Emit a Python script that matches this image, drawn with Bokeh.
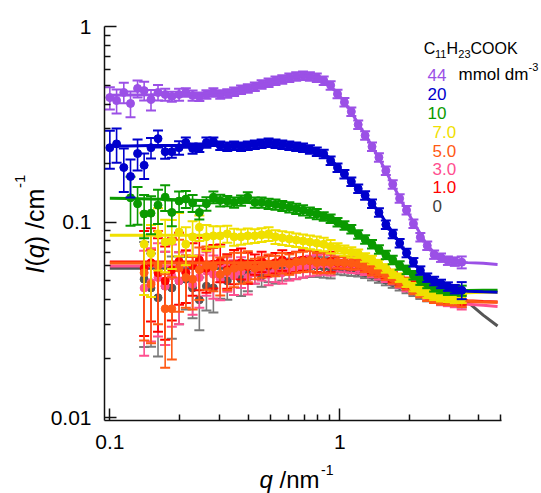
import numpy as np
from bokeh.plotting import figure
from bokeh.models import Range1d, FixedTicker, CustomJSTickFormatter, Label, ColumnDataSource
from bokeh.embed import file_html
from bokeh.resources import INLINE

N = None
# ---------------- data ----------------
q = [0.100, 0.107, 0.115, 0.123, 0.132, 0.141, 0.151, 0.162, 0.174, 0.186,
     0.200, 0.214, 0.229, 0.245, 0.263, 0.282, 0.302, 0.324, 0.347, 0.372,
     0.398, 0.427, 0.457, 0.490, 0.525, 0.562, 0.603, 0.646, 0.692, 0.741,
     0.794, 0.851, 0.912, 0.977, 1.047, 1.122, 1.202, 1.288, 1.380, 1.479,
     1.585, 1.698, 1.820, 1.950, 2.089, 2.239, 2.399, 2.570, 2.754, 2.951,
     3.162, 3.388]

I_44 = [0.433, 0.418, 0.460, 0.404, 0.482, 0.470, 0.423, 0.460, 0.449, 0.438,
        0.449, 0.460, 0.444, 0.438, 0.449, 0.460, 0.449, 0.455, 0.465, 0.476,
        0.482, 0.493, 0.505, 0.517, 0.529, 0.536, 0.548, 0.555, 0.561, 0.555,
        0.548, 0.529, 0.500, 0.452, 0.410, 0.367, 0.315, 0.277, 0.243, 0.214,
        0.183, 0.156, 0.132, 0.115, 0.098, 0.0836, 0.0758, 0.0682, 0.0658, 0.0635,
        0.0628, 0.0623]
I_20 = [0.240, 0.251, 0.190, 0.171, 0.224, 0.195, 0.240, 0.267, 0.229, 0.229,
        0.240, 0.255, 0.238, 0.240, 0.255, 0.258, 0.246, 0.243, 0.246, 0.243,
        0.246, 0.249, 0.252, 0.255, 0.252, 0.249, 0.246, 0.243, 0.240, 0.235,
        0.229, 0.223, 0.206, 0.190, 0.176, 0.161, 0.148, 0.137, 0.124, 0.112,
        0.097, 0.087, 0.078, 0.0695, 0.0623, 0.0565, 0.052, 0.050, 0.0483, 0.0468,
        0.0454, 0.0448]
I_10 = [N, N, N, 0.133, 0.124, 0.110, 0.111, 0.122, 0.134, 0.112,
        0.128, 0.131, 0.125, 0.112, 0.124, 0.134, 0.129, 0.128, 0.126, 0.129,
        0.134, 0.126, 0.126, 0.124, 0.123, 0.121, 0.119, 0.117, 0.115, 0.112,
        0.110, 0.107, 0.104, 0.100, 0.096, 0.092, 0.0865, 0.0815, 0.0770, 0.0725,
        0.068, 0.064, 0.060, 0.057, 0.0535, 0.0502, 0.0483, 0.0464, 0.0455, 0.0446,
        0.0446, 0.0446]
I_7 = [N, N, N, N, N, 0.077, 0.069, 0.087, 0.079, 0.080,
       0.089, 0.077, 0.084, 0.094, 0.084, 0.085, 0.085, 0.087, 0.084, 0.084,
       0.085, 0.085, 0.086, 0.087, 0.084, 0.083, 0.082, 0.081, 0.080, 0.079,
       0.078, 0.077, 0.075, 0.0735, 0.0715, 0.070, 0.069, 0.066, 0.064, 0.061,
       0.058, 0.0545, 0.052, 0.049, 0.0465, 0.0445, 0.043, 0.042, 0.0413, 0.041,
       0.0405, 0.0405]
I_5 = [N, N, N, N, N, 0.055, 0.048, 0.060, 0.036, 0.036,
       0.058, 0.052, 0.051, 0.057, 0.060, 0.059, 0.054, 0.056, 0.058, 0.059,
       0.060, 0.058, 0.059, 0.061, 0.060, 0.062, 0.061, 0.0625, 0.063, 0.0635,
       0.062, 0.0623, 0.062, 0.0623, 0.062, 0.0615, 0.061, 0.059, 0.0567, 0.0555,
       0.0538, 0.0515, 0.0497, 0.048, 0.0455, 0.0438, 0.042, 0.041, 0.0403, 0.040,
       0.0398, 0.040]
I_3 = [N, N, N, N, N, 0.046, 0.049, 0.052, 0.047, 0.053,
       0.050, 0.055, 0.048, 0.052, 0.056, 0.054, 0.051, 0.055, 0.053, 0.056,
       0.052, 0.055, 0.057, 0.054, 0.056, 0.055, 0.057, 0.058, 0.059, 0.060,
       0.0605, 0.061, 0.0605, 0.060, 0.0595, 0.059, 0.058, 0.057, 0.0555, 0.054,
       0.0525, 0.051, 0.049, 0.047, 0.0455, 0.044, 0.0425, 0.041, 0.040, 0.0395,
       0.039, 0.0388]
I_1 = [N, N, N, N, N, 0.058, 0.062, 0.055, 0.050, 0.057,
       0.063, 0.055, 0.060, 0.064, 0.058, 0.061, 0.063, 0.057, 0.060, 0.062,
       0.059, 0.061, 0.063, 0.060, 0.062, 0.064, 0.062, 0.063, 0.064, 0.0635,
       0.063, 0.0625, 0.063, 0.062, 0.062, 0.0615, 0.061, 0.0595, 0.058, 0.056,
       0.0545, 0.0525, 0.051, 0.049, 0.047, 0.045, 0.0435, 0.0425, 0.0415, 0.041,
       0.041, 0.041]
I_0 = [N, N, N, N, N, 0.051, 0.046, 0.041, 0.047, 0.046,
       0.050, 0.051, 0.046, 0.040, 0.047, 0.046, 0.052, 0.050, 0.053, 0.051,
       0.054, 0.055, 0.053, 0.056, 0.055, 0.057, 0.058, 0.058, 0.059, 0.0595,
       0.0595, 0.059, 0.0585, 0.058, 0.0575, 0.057, 0.056, 0.055, 0.0535, 0.052,
       0.0505, 0.049, 0.0475, 0.046, 0.0445, 0.043, 0.0418, 0.041, 0.040, 0.0398,
       0.0395, 0.0397]

# relative errors
err_44 = [0.13, 0.14, 0.12, 0.15, 0.10, 0.11, 0.12, 0.09, 0.07, 0.06,
          0.07, 0.05, 0.06, 0.05, 0.05, 0.05, 0.05, 0.05, 0.05, 0.05,
          0.05, 0.05, 0.05, 0.05, 0.05, 0.05, 0.05, 0.05, 0.05, 0.05,
          0.05, 0.05, 0.05, 0.05, 0.05, 0.05, 0.05, 0.05, 0.05, 0.05,
          0.05, 0.05, 0.05, 0.05, 0.05, 0.05, 0.05, 0.05, 0.05, 0.05,
          0.05, 0.07]
err_20 = [0.22, 0.20, 0.25, 0.22, 0.18, 0.15, 0.12, 0.10, 0.08, 0.07,
          0.08, 0.06, 0.06, 0.05, 0.06, 0.05, 0.05, 0.05, 0.05, 0.05,
          0.05, 0.05, 0.05, 0.05, 0.05, 0.05, 0.05, 0.05, 0.05, 0.05,
          0.05, 0.05, 0.05, 0.05, 0.05, 0.05, 0.05, 0.05, 0.05, 0.05,
          0.05, 0.05, 0.05, 0.05, 0.05, 0.05, 0.05, 0.05, 0.05, 0.05,
          0.05, 0.10]
err_10 = [N, N, N, 0.28, 0.22, 0.25, 0.22, 0.20, 0.15, 0.15,
          0.12, 0.10, 0.10, 0.08, 0.08, 0.07, 0.07, 0.06, 0.06, 0.06,
          0.06, 0.06, 0.06, 0.06, 0.06, 0.06, 0.06, 0.06, 0.06, 0.06,
          0.06, 0.05, 0.05, 0.05, 0.05, 0.05, 0.05, 0.05, 0.05, 0.05,
          0.05, 0.05, 0.05, 0.05, 0.05, 0.05, 0.05, 0.05, 0.05, 0.05,
          0.05, 0.06]
err_7 = [N, N, N, N, N, 0.45, 0.40, 0.35, 0.30, 0.28,
         0.25, 0.22, 0.20, 0.15, 0.15, 0.12, 0.12, 0.10, 0.10, 0.09,
         0.09, 0.08, 0.08, 0.08, 0.08, 0.08, 0.08, 0.08, 0.08, 0.08,
         0.08, 0.08, 0.08, 0.06, 0.06, 0.06, 0.05, 0.05, 0.05, 0.05,
         0.05, 0.05, 0.05, 0.05, 0.05, 0.05, 0.05, 0.05, 0.05, 0.05,
         0.05, 0.05]
err_low = [N, N, N, N, N, 0.55, 0.50, 0.50, 0.50, 0.45,
           0.40, 0.30, 0.30, 0.30, 0.25, 0.25, 0.22, 0.20, 0.20, 0.18,
           0.18, 0.12, 0.12, 0.12, 0.12, 0.12, 0.12, 0.12, 0.12, 0.12,
           0.12, 0.12, 0.12, 0.07, 0.07, 0.07, 0.06, 0.06, 0.06, 0.06,
           0.06, 0.06, 0.06, 0.06, 0.06, 0.06, 0.06, 0.06, 0.06, 0.06,
           0.06, 0.08]

# fitted curves
q_fit = [0.1, 0.12, 0.15, 0.2, 0.25, 0.3, 0.35, 0.4, 0.5, 0.6, 0.7, 0.8, 0.9, 1.0,
         1.1, 1.2, 1.35, 1.5, 1.7, 1.9, 2.1, 2.35, 2.6, 2.9, 3.2, 3.6, 4.2, 4.85]
fit_44 = [0.445, 0.447, 0.448, 0.450, 0.455, 0.462, 0.472, 0.485, 0.515, 0.543, 0.560, 0.552,
          0.505, 0.440, 0.378, 0.320, 0.255, 0.206, 0.155, 0.121, 0.099, 0.079, 0.068, 0.0638,
          0.0625, 0.062, 0.0615, 0.0607]
fit_20 = [0.245, 0.245, 0.246, 0.246, 0.246, 0.246, 0.247, 0.249, 0.251, 0.245, 0.238, 0.229,
          0.214, 0.186, 0.164, 0.149, 0.129, 0.110, 0.088, 0.072, 0.061, 0.0535, 0.050, 0.0468,
          0.0452, 0.0443, 0.044, 0.0438]
fit_10 = [0.1325, 0.132, 0.131, 0.130, 0.129, 0.128, 0.127, 0.126, 0.124, 0.119, 0.115, 0.110,
          0.105, 0.099, 0.093, 0.087, 0.0785, 0.0715, 0.064, 0.058, 0.053, 0.049, 0.0462, 0.0448,
          0.0446, 0.0447, 0.0448, 0.0448]
fit_7 = [0.0855, 0.0855, 0.0855, 0.0855, 0.0855, 0.0855, 0.085, 0.085, 0.0835, 0.081, 0.079, 0.0765,
         0.074, 0.0715, 0.0695, 0.0675, 0.0635, 0.059, 0.054, 0.0495, 0.0465, 0.0438, 0.0425, 0.0418,
         0.0425, 0.0435, 0.0438, 0.0438]
fit_5 = [0.0618, 0.0618, 0.0618, 0.0618, 0.0618, 0.0619, 0.062, 0.062, 0.0622, 0.0625, 0.0625, 0.0623,
         0.062, 0.0615, 0.0607, 0.0595, 0.0572, 0.0548, 0.0515, 0.0485, 0.046, 0.0435, 0.0418, 0.0405,
         0.0398, 0.0393, 0.039, 0.0389]
fit_3 = [0.0595, 0.0595, 0.0595, 0.0596, 0.0596, 0.0597, 0.0597, 0.0598, 0.0598, 0.060, 0.0605, 0.0605,
         0.0602, 0.0598, 0.059, 0.058, 0.056, 0.0537, 0.0505, 0.0475, 0.045, 0.0428, 0.041, 0.0397,
         0.0388, 0.038, 0.0375, 0.037]
fit_1 = [0.0625, 0.0625, 0.0625, 0.0625, 0.0625, 0.0625, 0.0626, 0.0628, 0.063, 0.0632, 0.0632, 0.063,
         0.0625, 0.062, 0.0612, 0.060, 0.0578, 0.0555, 0.0525, 0.0495, 0.047, 0.0445, 0.0428, 0.0412,
         0.0403, 0.0396, 0.0392, 0.039]
fit_0 = [0.058, 0.058, 0.058, 0.058, 0.058, 0.0581, 0.0582, 0.0583, 0.0585, 0.059, 0.0592, 0.059,
         0.0585, 0.058, 0.0572, 0.0562, 0.0545, 0.0525, 0.0495, 0.0468, 0.0445, 0.0425, 0.041, 0.0402,
         0.0398, 0.0389, 0.0334, 0.0294]

conc_labels = ["44", "20", "10", "7.0", "5.0", "3.0", "1.0", "0"]
x_ticks = [0.1, 1]
x_minor = [0.2, 0.3, 0.4, 0.5, 0.6, 0.7, 0.8, 0.9, 2, 3, 4, 5]
y_ticks = [0.01, 0.1, 1]
y_minor = [0.02, 0.03, 0.04, 0.05, 0.06, 0.07, 0.08, 0.09, 0.2, 0.3, 0.4, 0.5, 0.6, 0.7, 0.8, 0.9]
x_axis_span = (0.0948, 5.03)
y_axis_span = (0.00966, 1.0)

# ---------------- styling / layout ----------------
C_44, C_20, C_10, C_7 = "#9B50E6", "#0000CC", "#0A9A00", "#F0E000"
C_5, C_3, C_1, C_0 = "#FF5A14", "#FF4F8F", "#FF0000", "#555555"
FONT = "Liberation Sans"

W, H = 541, 493
# page-pixel geometry of the axes box
AX_L, AX_R, AX_T, AX_B = 104.0, 500.7, 26.0, 420.0
px_per_dec_x = (AX_R - AX_L) / (np.log10(x_axis_span[1]) - np.log10(x_axis_span[0]))
px_per_dec_y = (AX_B - AX_T) / (np.log10(y_axis_span[1]) - np.log10(y_axis_span[0]))
lx0 = np.log10(x_axis_span[0]) - AX_L / px_per_dec_x
lx1 = np.log10(x_axis_span[1]) + (W - AX_R) / px_per_dec_x
ly1 = np.log10(y_axis_span[1]) + AX_T / px_per_dec_y
ly0 = np.log10(y_axis_span[0]) - (H - AX_B) / px_per_dec_y
xr = Range1d(10 ** lx0, 10 ** lx1)
yr = Range1d(10 ** ly0, 10 ** ly1)

p = figure(width=W, height=H, x_axis_type="log", y_axis_type="log",
           x_range=xr, y_range=yr, output_backend="svg", toolbar_location=None,
           min_border=0, min_border_left=0, min_border_right=0,
           min_border_top=0, min_border_bottom=0, title=None)
p.grid.visible = False
p.outline_line_color = None
p.background_fill_color = "white"
p.border_fill_color = "white"

fmt = CustomJSTickFormatter(code="return String(Number(tick.toPrecision(3)));")
p.xaxis.ticker = FixedTicker(ticks=x_ticks, minor_ticks=x_minor)
p.yaxis.ticker = FixedTicker(ticks=y_ticks, minor_ticks=y_minor)
p.xaxis.fixed_location = y_axis_span[0]
p.yaxis.fixed_location = x_axis_span[0]
p.xaxis.bounds = x_axis_span
p.yaxis.bounds = y_axis_span
for ax in (p.xaxis, p.yaxis):
    ax.formatter = fmt
    ax.axis_line_width = 1.5
    ax.axis_line_color = "#111111"
    ax.major_tick_in = 12
    ax.major_tick_out = 0
    ax.minor_tick_in = 6
    ax.minor_tick_out = 0
    ax.major_tick_line_width = 1.5
    ax.minor_tick_line_width = 1.5
    ax.major_tick_line_color = "#111111"
    ax.minor_tick_line_color = "#111111"
    ax.major_label_text_font = FONT
    ax.major_label_text_font_size = "21px"
    ax.major_label_text_color = "black"
p.xaxis.major_label_standoff = 14
p.yaxis.major_label_standoff = 13

series = [
    (I_0, err_low, fit_0, C_0, "#7a7a7a"),
    (I_3, err_low, fit_3, C_3, C_3),
    (I_1, err_low, fit_1, C_1, C_1),
    (I_5, err_low, fit_5, C_5, C_5),
    (I_7, err_7, fit_7, C_7, C_7),
    (I_10, err_10, fit_10, C_10, C_10),
    (I_20, err_20, fit_20, C_20, C_20),
    (I_44, err_44, fit_44, C_44, C_44),
]
for I, err, fit, col, ecol in series:
    keep = [k for k, v in enumerate(I) if v is not None]
    qq = [q[k] for k in keep]
    ii = [I[k] for k in keep]
    lo = [I[k] * (1 - err[k]) for k in keep]
    hi = [I[k] * (1 + err[k]) for k in keep]
    src = ColumnDataSource(dict(q=qq, I=ii, lo=lo, hi=hi))
    p.segment(x0="q", y0="lo", x1="q", y1="hi", source=src, line_color=ecol, line_width=1.6)
    p.scatter(x="q", y="lo", marker="dash", size=10, line_color=ecol, line_width=2, source=src)
    p.scatter(x="q", y="hi", marker="dash", size=10, line_color=ecol, line_width=2, source=src)
    p.scatter(x="q", y="I", marker="circle", size=8, fill_color=col, line_color=col, source=src)
    p.line(q_fit, fit, line_color=col, line_width=3)


# --------- text placement (page px -> data coords), anchors at text middle ---------
def dx(X):
    return 10 ** (lx0 + X / W * (lx1 - lx0))


def dy(Y):
    return 10 ** (ly1 - Y / H * (ly1 - ly0))


MID = 0.3465  # distance baseline -> middle of text box, in em


def txt(X, Yb, s, size, color="black", style="normal"):
    """horizontal text, X = left edge, Yb = baseline (page px)"""
    p.add_layout(Label(x=dx(X), y=dy(Yb - MID * size), text=s, text_font=FONT,
                       text_font_size=f"{size}px", text_color=color, text_font_style=style,
                       text_align="left", text_baseline="middle"))


def vtxt(Xb, Y, s, size, style="normal"):
    """text rotated 90 deg (reads upward), Xb = baseline, Y = start (bottom)"""
    p.add_layout(Label(x=dx(Xb - MID * size), y=dy(Y), text=s, text_font=FONT,
                       text_font_size=f"{size}px", text_color="black", text_font_style=style,
                       angle=np.pi / 2, text_align="left", text_baseline="middle"))


# legend header  C11H23COOK
txt(423.3, 53.5, "C", 16)
txt(434.5, 57.5, "11", 11)
txt(446.0, 53.5, "H", 16)
txt(457.8, 57.5, "23", 11)
txt(470.0, 53.5, "COOK", 16)
# unit
txt(458.0, 80.0, "mmol dm", 17)
txt(528.0, 70.0, "-3", 11)
# concentration labels
leg = [(427, 80.0, C_44), (427, 99.0, C_20), (427, 118.0, C_10), (432, 137.3, C_7),
       (432, 156.0, C_5), (432, 174.3, C_3), (432, 192.5, C_1), (432, 211.0, "#404040")]
for (X, Y, c), s in zip(leg, conc_labels):
    txt(X, Y, s, 17, color=c)

# x axis label:  q /nm^-1
txt(259.0, 487.0, "q", 24, style="italic")
txt(279.0, 487.0, "/nm", 24)
txt(320.5, 474.5, "-1", 14)

# y axis label:  I(q) /cm^-1  (rotated)
vtxt(43.0, 273.0, "I", 25, style="italic")
vtxt(43.0, 266.0, "(", 25)
vtxt(43.0, 257.7, "q", 25, style="italic")
vtxt(43.0, 243.8, ") /cm", 25)
vtxt(24.5, 187.5, "-1", 15)

open("out.html", "w").write(file_html(p, INLINE))
